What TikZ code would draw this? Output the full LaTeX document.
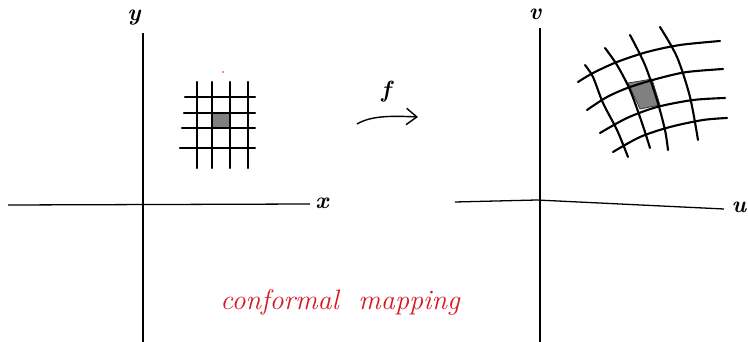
\documentclass[tikz,border=0pt]{standalone}
\usepackage{tikz}
\usetikzlibrary{arrows.meta}
\definecolor{encre}{RGB}{214,24,34}
\begin{document}
\begin{tikzpicture}[
    x=0.03cm, y=-0.03cm,
    axe/.style={line width=1.1pt},        % les axes
    grille/.style={line width=1.8pt, line cap=round},     % les lignes de la grille
    carre/.style={fill=black!50, draw=black!80, line width=0.6pt},
    lettre/.style={font=\fontsize{20}{24}\selectfont\bfseries\itshape},
    fleche/.style={line width=1.2pt, -{Straight Barb[length=9pt, width=14pt, line width=1.2pt]}}
]
\useasboundingbox (0,0) rectangle (748,342);
% Plan (x,y)
\coordinate (xo) at (8,205);
\coordinate (xe) at (310,204);
\coordinate (yo) at (143,342);
\coordinate (ye) at (143,33);
\draw[axe] (xo) -- (xe);
\draw[axe] (yo) -- (ye);
\node[lettre] (lx) at (322,203) {x};
\node[lettre] (ly) at (134,18) {y};
% Grille et petit carre
\fill[carre] (212,113) rectangle (230,128);
\foreach \xx in {197,212,230,248}
    \draw[grille] (\xx,82) -- (\xx,168);
\foreach \yy/\xa in {97/185,113/184,128/182,148/180}
    \draw[grille] (\xa,\yy) -- (255,\yy);
\fill[encre] (223,72) circle (0.8);
% Fleche f
\coordinate (fa) at (357,124);
\coordinate (fb) at (418,117);
\draw[fleche] (fa) .. controls (372,115) and (395,116) .. (fb);
\node[lettre] (lf) at (386,92) {f};
% Plan (u,v)
\coordinate (uo) at (455,202);
\coordinate (um) at (537,200);
\coordinate (ue) at (724,209);
\coordinate (vo) at (540,342);
\coordinate (ve) at (540,28);
\draw[axe] (uo) -- (um) -- (ue);
\draw[axe] (vo) -- (ve);
\node[lettre] (lu) at (739,207) {u};
\node[lettre] (lv) at (535,14) {v};
% Image de la grille
\fill[carre] (628,83) -- (652,79) -- (660,105) -- (640,109) -- cycle;
\draw[grille] plot[smooth] coordinates {(585,65) (593,77) (603,103) (617,130) (628,157)};
\draw[grille] plot[smooth] coordinates {(605,48) (617,65) (630,90) (642,123) (650,148)};
\draw[grille] plot[smooth] coordinates {(630,35) (645,65) (657,100) (665,130) (668,150)};
\draw[grille] plot[smooth] coordinates {(660,27) (677,57) (690,97) (698,140)};
\draw[grille] plot[smooth] coordinates {(578,82) (593,73) (617,62) (647,52) (680,45) (720,41)};
\draw[grille] plot[smooth] coordinates {(587,110) (607,97) (630,87) (660,78) (687,72) (723,69)};
\draw[grille] plot[smooth] coordinates {(600,133) (627,118) (657,107) (693,100) (725,98)};
\draw[grille] plot[smooth] coordinates {(613,152) (640,137) (670,127) (703,120) (727,118)};
% Titre
\node[text=encre, font=\fontsize{24}{28}\selectfont\itshape] (titre) at (340,302) {conformal\ \ mapping};
\end{tikzpicture}
\end{document}
